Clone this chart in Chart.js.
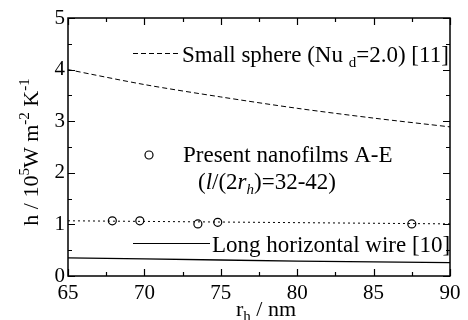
<!DOCTYPE html>
<html>
<head>
<meta charset="utf-8">
<script src="https://cdn.jsdelivr.net/npm/chart.js@4/dist/chart.umd.min.js"></script>
<style>
html,body{margin:0;padding:0;background:#fff;}
#c{display:block;}
</style>
</head>
<body>
<canvas id="c" width="468" height="320" style="width:468px;height:320px"></canvas>
<script>
// ---- data ----
const lineX = [65, 70, 75, 80, 85, 90];
const sphereH = [4.0, 3.71, 3.47, 3.25, 3.06, 2.89];      // small sphere (Nu_d = 2.0)
const wireH = [0.35, 0.33, 0.31, 0.29, 0.275, 0.26];       // long horizontal wire
const fitX = [65, 90];
const fitH = [1.07, 1.01];                                  // dotted trend through nanofilms
const filmR = [67.9, 69.7, 73.5, 74.8, 87.5];               // nanofilms A-E radius
const filmH = [1.07, 1.07, 1.01, 1.04, 1.01];
const xTicks = [65, 70, 75, 80, 85, 90];
const yTicks = [0, 1, 2, 3, 4, 5];

const FONT = '"Liberation Serif", "Times New Roman", serif';
const pts = (xs, ys) => xs.map((x, i) => ({x: x, y: ys[i]}));

function drawRuns(ctx, runs, x, y) {
  // runs: [text, size, dy, italic]
  let cx = x;
  for (const r of runs) {
    ctx.font = (r[3] ? 'italic ' : '') + r[1] + 'px ' + FONT;
    ctx.fillText(r[0], cx, y + r[2]);
    cx += ctx.measureText(r[0]).width;
  }
  return cx;
}
function runsWidth(ctx, runs) {
  let w = 0;
  for (const r of runs) {
    ctx.font = (r[3] ? 'italic ' : '') + r[1] + 'px ' + FONT;
    w += ctx.measureText(r[0]).width;
  }
  return w;
}

const decor = {
  id: 'decor',
  afterDraw(chart) {
    const ctx = chart.ctx;
    const a = chart.chartArea;
    const xs = chart.scales.x, ys = chart.scales.y;
    ctx.save();
    ctx.strokeStyle = '#000';
    ctx.fillStyle = '#000';
    // frame
    ctx.lineWidth = 1.5;
    ctx.strokeRect(a.left, a.top, a.right - a.left, a.bottom - a.top);
    // inside ticks
    ctx.lineWidth = 1.2;
    ctx.beginPath();
    for (let v = 65; v <= 90.001; v += 2.5) {
      const p = Math.round(xs.getPixelForValue(v)) + 0.5;
      const L = (Math.abs(v % 5) < 0.01) ? 7 : 4;
      ctx.moveTo(p, a.bottom); ctx.lineTo(p, a.bottom - L);
      ctx.moveTo(p, a.top); ctx.lineTo(p, a.top + L);
    }
    for (let v = 0; v <= 5.001; v += 0.5) {
      const p = Math.round(ys.getPixelForValue(v)) + 0.5;
      const L = (Math.abs(v % 1) < 0.01) ? 7 : 4;
      ctx.moveTo(a.left, p); ctx.lineTo(a.left + L, p);
      ctx.moveTo(a.right, p); ctx.lineTo(a.right - L, p);
    }
    ctx.stroke();

    // legend samples
    ctx.lineWidth = 1;
    ctx.setLineDash([5, 3]);
    ctx.beginPath(); ctx.moveTo(133, 53.5); ctx.lineTo(178, 53.5); ctx.stroke();
    ctx.setLineDash([]);
    ctx.lineWidth = 1.2;
    ctx.beginPath(); ctx.moveTo(133, 243.5); ctx.lineTo(210, 243.5); ctx.stroke();
    ctx.beginPath(); ctx.arc(149, 155, 4, 0, Math.PI * 2); ctx.fillStyle = '#fff'; ctx.fill(); ctx.stroke();
    ctx.fillStyle = '#000';

    // legend texts
    ctx.textBaseline = 'alphabetic';
    ctx.textAlign = 'left';
    drawRuns(ctx, [['Small sphere (Nu ', 23, 0], ['d', 15, 5], ['=2.0) [11]', 23, 0]], 182, 62);
    drawRuns(ctx, [['Present nanofilms A-E', 23, 0]], 183, 162);
    drawRuns(ctx, [['(', 23, 0], ['l', 23, 0, true], ['/(2', 23, 0], ['r', 23, 0, true], ['h', 15, 5, true], [')=32-42)', 23, 0]], 198, 189);
    drawRuns(ctx, [['Long horizontal wire [10]', 23, 0]], 212, 252);

    // x axis title
    const xr = [['r', 22, 0], ['h', 15, 5], [' / nm', 22, 0]];
    const xw = runsWidth(ctx, xr);
    drawRuns(ctx, xr, 266 - xw / 2, 316);

    // y axis title (rotated)
    const yr = [['h / 10', 22, 0], ['5', 15, -9], ['W m', 22, 0], ['-2', 15, -9], [' K', 22, 0], ['-1', 15, -9]];
    const yw = runsWidth(ctx, yr);
    ctx.translate(38, 152);
    ctx.rotate(-Math.PI / 2);
    drawRuns(ctx, yr, -yw / 2, 0);
    ctx.restore();
  }
};

new Chart(document.getElementById('c'), {
  type: 'scatter',
  data: {
    datasets: [
      { data: pts(lineX, sphereH), showLine: true, borderColor: '#000', borderWidth: 1, borderDash: [5, 3], pointRadius: 0, tension: 0.3 },
      { data: pts(lineX, wireH), showLine: true, borderColor: '#000', borderWidth: 1.3, pointRadius: 0 },
      { data: pts(fitX, fitH), showLine: true, borderColor: '#000', borderWidth: 1, borderDash: [2, 3], pointRadius: 0 },
      { data: pts(filmR, filmH), showLine: false, borderColor: '#000', backgroundColor: '#fff', borderWidth: 1.2, pointRadius: 4, pointStyle: 'circle' }
    ]
  },
  options: {
    responsive: false,
    devicePixelRatio: 1,
    animation: false,
    events: [],
    layout: { padding: { left: 0, top: 18, right: 18, bottom: 0 } },
    plugins: { legend: { display: false }, tooltip: { enabled: false } },
    scales: {
      x: {
        type: 'linear', min: 65, max: 90,
        afterBuildTicks: s => { s.ticks = xTicks.map(v => ({value: v})); },
        afterFit: s => { s.height = 44; s.paddingLeft = 0; s.paddingRight = 0; },
        grid: { display: false, drawTicks: false },
        border: { display: false },
        ticks: { color: '#000', font: { family: FONT, size: 21 }, padding: 5, maxRotation: 0, autoSkip: false }
      },
      y: {
        type: 'linear', min: 0, max: 5,
        afterBuildTicks: s => { s.ticks = yTicks.map(v => ({value: v})); },
        afterFit: s => { s.width = 68; s.paddingTop = 0; s.paddingBottom = 0; },
        grid: { display: false, drawTicks: false },
        border: { display: false },
        ticks: { color: '#000', font: { family: FONT, size: 21 }, padding: 3, autoSkip: false }
      }
    }
  },
  plugins: [decor]
});
</script>
</body>
</html>
